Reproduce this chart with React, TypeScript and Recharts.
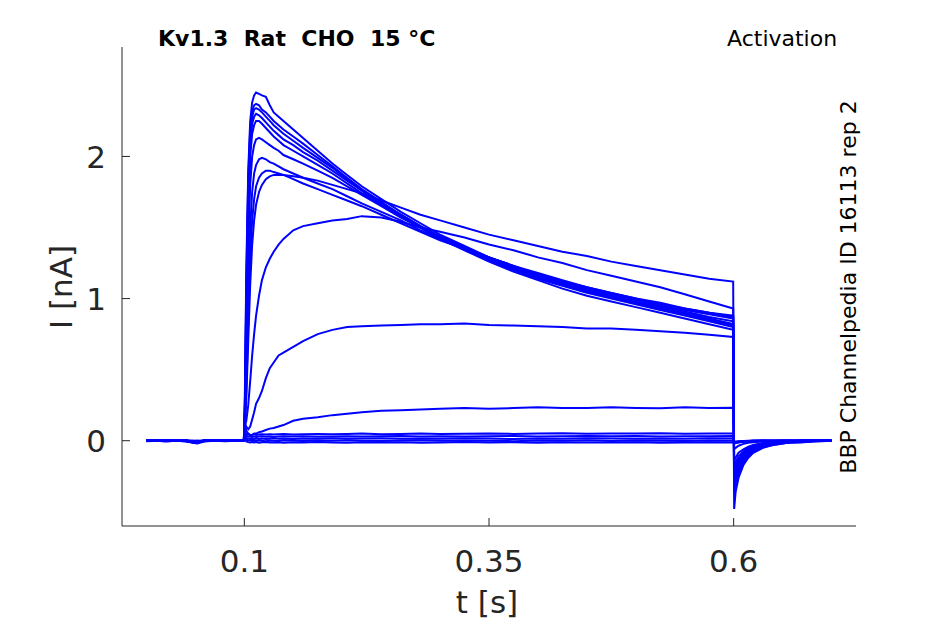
import React from "react";
import { LineChart, Line, XAxis, YAxis } from "recharts";

// sample times [s]
const T = [
  0, 0.02, 0.04, 0.047, 0.052, 0.06, 0.08, 0.0995,
  0.1005, 0.102, 0.104, 0.106, 0.108, 0.11, 0.112, 0.115, 0.118, 0.122,
  0.126, 0.13, 0.135, 0.14, 0.15, 0.16, 0.175, 0.19, 0.205, 0.22,
  0.24, 0.26, 0.28, 0.3, 0.325, 0.35, 0.375, 0.4, 0.425, 0.45,
  0.475, 0.5, 0.525, 0.55, 0.575, 0.5995,
  0.6005, 0.602, 0.605, 0.61, 0.615, 0.62, 0.63, 0.64, 0.655, 0.67, 0.685, 0.7,
];

// current sweeps [nA]
const P1 = [
  0.003, -0.004, 0.002, -0.01, -0.012, 0.004, -0.003, 0.002,
  0.06, 0.05, 0.045, 0.04, 0.042, 0.045, 0.04, 0.043, 0.045, 0.044, 0.046, 0.043, 0.045, 0.047, 0.044, 0.046, 0.048, 0.045, 0.047, 0.05,
  0.046, 0.048, 0.05, 0.047, 0.049, 0.051, 0.048, 0.05, 0.052, 0.049, 0.051, 0.05, 0.052, 0.049, 0.051, 0.05,
  -0.02, -0.015, -0.01, -0.006, -0.004, -0.002, 0, 0.002, 0, -0.002, 0.001, 0,
];
const P2 = [
  -0.004, 0.002, -0.002, -0.006, -0.004, 0.002, 0.004, -0.002,
  0.05, 0.035, 0.03, 0.028, 0.027, 0.03, 0.026, 0.029, 0.031, 0.028, 0.03, 0.027, 0.03, 0.032, 0.029, 0.031, 0.028, 0.03, 0.032, 0.029,
  0.031, 0.033, 0.03, 0.032, 0.029, 0.031, 0.033, 0.03, 0.032, 0.034, 0.031, 0.033, 0.03, 0.032, 0.031, 0.033,
  -0.015, -0.012, -0.008, -0.005, -0.003, -0.001, 0.001, 0, 0.002, 0, -0.001, 0,
];
const P3 = [
  0, 0.004, -0.004, -0.015, -0.02, -0.004, 0.002, 0,
  0.04, 0.02, 0.015, 0.012, 0.014, 0.01, 0.015, 0.013, 0.016, 0.012, 0.014, 0.017, 0.013, 0.015, 0.012, 0.016, 0.014, 0.018, 0.013, 0.015,
  0.017, 0.014, 0.016, 0.013, 0.017, 0.015, 0.012, 0.016, 0.014, 0.018, 0.015, 0.013, 0.016, 0.014, 0.017, 0.015,
  -0.012, -0.01, -0.006, -0.004, -0.002, 0, 0.001, -0.001, 0, 0.001, 0, 0,
];
const P4 = [
  0.002, -0.003, 0.004, -0.002, 0.001, -0.004, 0.003, 0.001,
  0.03, 0.008, 0.003, 0.001, -0.002, 0.002, -0.001, 0.003, 0, -0.003, 0.002, 0, -0.002, 0.003, 0.001, -0.002, 0.002, -0.001, 0.003, 0,
  -0.002, 0.001, 0.003, -0.001, 0.002, 0, -0.003, 0.002, 0, 0.003, -0.002, 0.001, 0, -0.002, 0.002, 0,
  -0.008, -0.006, -0.004, -0.002, 0, 0.001, 0, -0.001, 0.001, 0, 0, 0,
];
const P5 = [
  -0.002, 0.003, -0.004, 0.002, -0.003, 0.004, -0.002, 0,
  0.02, -0.005, -0.01, -0.012, -0.009, -0.013, -0.01, -0.014, -0.011, -0.009, -0.013, -0.012, -0.01, -0.014, -0.011, -0.013, -0.009, -0.012, -0.014, -0.01,
  -0.013, -0.011, -0.014, -0.012, -0.009, -0.013, -0.011, -0.014, -0.01, -0.012, -0.013, -0.011, -0.014, -0.012, -0.01, -0.012,
  -0.02, -0.016, -0.012, -0.008, -0.005, -0.003, -0.001, 0, 0.001, 0, -0.001, 0,
];
const A = [
  0.001, -0.002, 0.003, -0.012, -0.015, 0.002, -0.002, 0.001,
  0.12, 0.07, 0.05, 0.04, 0.04, 0.05, 0.05, 0.06, 0.065, 0.075, 0.085, 0.09, 0.1, 0.11, 0.14, 0.155, 0.165, 0.18, 0.19, 0.2,
  0.21, 0.215, 0.22, 0.225, 0.23, 0.225, 0.23, 0.235, 0.23, 0.23, 0.235, 0.23, 0.228, 0.235, 0.23, 0.232,
  -0.06, -0.05, -0.035, -0.022, -0.015, -0.01, -0.005, -0.002, 0, 0.001, 0, 0,
];
const B = [
  -0.002, 0.003, 0, -0.008, -0.01, 0.003, 0, -0.001,
  0.12, 0.1, 0.08, 0.1, 0.15, 0.2, 0.26, 0.3, 0.35, 0.44, 0.51, 0.55, 0.6, 0.62, 0.66, 0.7, 0.75, 0.78, 0.8, 0.805,
  0.81, 0.815, 0.82, 0.82, 0.825, 0.815, 0.81, 0.805, 0.8, 0.79, 0.79, 0.78, 0.77, 0.76, 0.745, 0.73,
  -0.14, -0.12, -0.085, -0.06, -0.042, -0.03, -0.016, -0.008, -0.003, 0, 0, 0,
];
const C = [
  0.002, -0.001, 0.002, -0.004, -0.006, 0.001, 0.003, 0,
  0.1, 0.14, 0.25, 0.42, 0.6, 0.75, 0.88, 1.02, 1.13, 1.22, 1.28, 1.33, 1.38, 1.42, 1.48, 1.51, 1.53, 1.55, 1.56, 1.58,
  1.57, 1.54, 1.5, 1.47, 1.43, 1.38, 1.34, 1.29, 1.25, 1.2, 1.16, 1.12, 1.08, 1.03, 0.98, 0.93,
  -0.18, -0.15, -0.11, -0.075, -0.05, -0.035, -0.02, -0.01, -0.004, 0, 0, 0,
];
const D = [
  0.001, 0.002, -0.003, -0.01, -0.012, 0.002, -0.001, 0,
  0.12, 0.3, 0.7, 1.1, 1.38, 1.55, 1.66, 1.75, 1.8, 1.84, 1.86, 1.87, 1.87, 1.87, 1.86, 1.85, 1.83, 1.8, 1.77, 1.74,
  1.69, 1.64, 1.59, 1.55, 1.5, 1.45, 1.41, 1.37, 1.33, 1.3, 1.26, 1.23, 1.2, 1.17, 1.14, 1.12,
  -0.2, -0.17, -0.13, -0.085, -0.058, -0.04, -0.022, -0.012, -0.004, 0, 0, 0,
];
const F = [
  -0.001, 0.003, 0.001, -0.005, -0.008, 0.002, 0.001, 0,
  0.12, 0.35, 0.85, 1.3, 1.55, 1.7, 1.79, 1.85, 1.88, 1.9, 1.9, 1.89, 1.88, 1.87, 1.84, 1.81, 1.77, 1.73, 1.69, 1.65,
  1.59, 1.53, 1.47, 1.41, 1.35, 1.29, 1.23, 1.18, 1.13, 1.08, 1.04, 1.0, 0.97, 0.93, 0.9, 0.88,
  -0.22, -0.19, -0.145, -0.095, -0.066, -0.046, -0.026, -0.015, -0.005, 0, 0, 0,
];
const E = [
  0.002, -0.002, 0.001, -0.006, -0.009, 0.001, 0.002, 0,
  0.13, 0.45, 1.05, 1.5, 1.75, 1.88, 1.94, 1.98, 1.99, 1.98, 1.96, 1.95, 1.93, 1.91, 1.88, 1.85, 1.81, 1.77, 1.72, 1.67,
  1.61, 1.55, 1.48, 1.42, 1.35, 1.29, 1.23, 1.17, 1.12, 1.08, 1.04, 1.0, 0.96, 0.93, 0.9, 0.87,
  -0.24, -0.2, -0.155, -0.1, -0.07, -0.05, -0.03, -0.015, -0.005, 0, 0, 0,
];
const G = [
  -0.002, 0.001, 0.003, -0.004, -0.007, 0.003, -0.002, 0.001,
  0.15, 0.6, 1.35, 1.8, 2.0, 2.08, 2.12, 2.13, 2.12, 2.1, 2.08, 2.06, 2.04, 2.01, 1.98, 1.95, 1.9, 1.85, 1.79, 1.73,
  1.65, 1.57, 1.5, 1.43, 1.36, 1.29, 1.23, 1.17, 1.12, 1.07, 1.03, 0.99, 0.95, 0.92, 0.89, 0.86,
  -0.26, -0.22, -0.165, -0.11, -0.08, -0.055, -0.03, -0.02, -0.01, 0, 0, 0,
];
const H = [
  0.001, -0.003, 0.002, -0.008, -0.011, 0, 0.002, -0.001,
  0.18, 0.8, 1.6, 2.0, 2.16, 2.22, 2.25, 2.25, 2.23, 2.2, 2.17, 2.14, 2.11, 2.08, 2.04, 2.0, 1.94, 1.88, 1.81, 1.74,
  1.66, 1.58, 1.5, 1.42, 1.35, 1.28, 1.21, 1.15, 1.1, 1.05, 1.01, 0.97, 0.93, 0.9, 0.86, 0.82,
  -0.28, -0.24, -0.18, -0.12, -0.085, -0.06, -0.035, -0.02, -0.01, 0, 0, 0,
];
const I = [
  -0.001, 0.002, -0.002, -0.01, -0.013, 0.002, 0, 0.001,
  0.2, 0.9, 1.7, 2.08, 2.23, 2.28, 2.3, 2.29, 2.27, 2.24, 2.21, 2.18, 2.15, 2.12, 2.08, 2.03, 1.97, 1.9, 1.83, 1.76,
  1.67, 1.59, 1.51, 1.44, 1.36, 1.29, 1.22, 1.16, 1.11, 1.06, 1.02, 0.98, 0.94, 0.91, 0.87, 0.84,
  -0.3, -0.26, -0.195, -0.13, -0.09, -0.065, -0.035, -0.02, -0.01, -0.005, 0, 0,
];
const J = [
  0.002, 0, 0.001, -0.007, -0.01, -0.002, 0.003, 0,
  0.22, 1.0, 1.78, 2.15, 2.28, 2.33, 2.34, 2.33, 2.31, 2.28, 2.25, 2.22, 2.19, 2.16, 2.11, 2.06, 1.99, 1.92, 1.84, 1.76,
  1.67, 1.58, 1.5, 1.42, 1.34, 1.26, 1.19, 1.13, 1.07, 1.02, 0.98, 0.94, 0.9, 0.86, 0.82, 0.78,
  -0.33, -0.28, -0.21, -0.14, -0.1, -0.07, -0.04, -0.025, -0.01, -0.005, 0, 0,
];
const K = [
  -0.002, 0.002, 0, -0.005, -0.008, 0.001, -0.002, 0.001,
  0.25, 1.1, 1.85, 2.2, 2.32, 2.36, 2.37, 2.36, 2.33, 2.31, 2.28, 2.25, 2.22, 2.19, 2.14, 2.09, 2.01, 1.93, 1.85, 1.77,
  1.68, 1.59, 1.51, 1.43, 1.35, 1.27, 1.2, 1.14, 1.09, 1.04, 1.0, 0.96, 0.92, 0.88, 0.84, 0.8,
  -0.36, -0.31, -0.23, -0.15, -0.11, -0.08, -0.045, -0.03, -0.015, -0.01, 0, 0,
];
const L = [
  0.001, -0.001, 0.002, -0.009, -0.012, 0.002, 0.001, 0,
  0.3, 1.2, 1.9, 2.25, 2.38, 2.43, 2.45, 2.44, 2.43, 2.42, 2.36, 2.31, 2.28, 2.25, 2.19, 2.13, 2.04, 1.95, 1.87, 1.79,
  1.7, 1.61, 1.53, 1.45, 1.37, 1.29, 1.22, 1.16, 1.1, 1.05, 1.01, 0.97, 0.93, 0.89, 0.85, 0.81,
  -0.48, -0.36, -0.26, -0.17, -0.12, -0.085, -0.05, -0.03, -0.015, -0.01, -0.005, 0,
];

const sweeps: [string, number[]][] = [
  ["p1", P1], ["p2", P2], ["p3", P3], ["p4", P4], ["p5", P5],
  ["a", A], ["b", B], ["c", C], ["d", D], ["f", F], ["e", E],
  ["g", G], ["h", H], ["i", I], ["j", J], ["k", K], ["l", L],
];

const X_TICKS = [0.1, 0.35, 0.6];
const Y_TICKS = [0, 1, 2];

const data = T.map((t, idx) => {
  const row: Record<string, number> = { t };
  sweeps.forEach(([key, vals]) => {
    row[key] = vals[idx];
  });
  return row;
});

const AX = "#262626";
const FONT = "'DejaVu Sans', sans-serif";

// inward tick mark + label (matlab style)
function XTick(props: any) {
  const { x, y, payload } = props;
  return (
    <g>
      <line x1={x} x2={x} y1={y - 24} y2={y - 32} stroke={AX} strokeWidth={1} />
      <text x={x} y={y} dy="0.72em" textAnchor="middle" fill={AX} fontSize={31} fontFamily={FONT}>
        {String(payload.value)}
      </text>
    </g>
  );
}

function YTick(props: any) {
  const { x, y, payload } = props;
  return (
    <g>
      <line x1={x + 16} x2={x + 24} y1={y} y2={y} stroke={AX} strokeWidth={1} />
      <text x={x} y={y} dy="0.36em" textAnchor="end" fill={AX} fontSize={31} fontFamily={FONT}>
        {String(payload.value)}
      </text>
    </g>
  );
}

export default function App() {
  return (
    <div style={{ position: "absolute", left: 0, top: 0, width: 945, height: 624, background: "#fff", fontFamily: FONT }}>
      <LineChart width={945} height={624} data={data} margin={{ top: 47, right: 89, left: 62, bottom: 38 }}>
        <XAxis
          type="number"
          dataKey="t"
          domain={[-0.025, 0.725]}
          ticks={X_TICKS}
          stroke={AX}
          tickLine={false}
          tickSize={0}
          tickMargin={24}
          height={60}
          tick={<XTick />}
          allowDataOverflow
        />
        <YAxis
          type="number"
          domain={[-0.6, 2.77]}
          ticks={Y_TICKS}
          stroke={AX}
          tickLine={false}
          tickSize={0}
          tickMargin={16}
          width={60}
          tick={<YTick />}
          allowDataOverflow
        />
        {sweeps.map(([key]) => (
          <Line
            key={key}
            type="linear"
            dataKey={key}
            stroke="#0000ff"
            strokeWidth={2}
            dot={false}
            isAnimationActive={false}
          />
        ))}
      </LineChart>
      <div style={{ position: "absolute", left: 158, top: 28, fontSize: 22, lineHeight: 1, fontWeight: "bold", whiteSpace: "pre", color: "#000" }}>
        {"Kv1.3  Rat  CHO  15 °C"}
      </div>
      <div style={{ position: "absolute", left: 727, top: 28, fontSize: 22, lineHeight: 1, whiteSpace: "pre", color: "#000" }}>
        Activation
      </div>
      <div
        style={{
          position: "absolute", left: 849, top: 287, fontSize: 22, lineHeight: 1, whiteSpace: "nowrap", color: "#000",
          transform: "translate(-50%, -50%) rotate(-90deg)",
        }}
      >
        BBP Channelpedia ID 16113 rep 2
      </div>
      <div
        style={{
          position: "absolute", left: 61, top: 287, fontSize: 31, lineHeight: 1, whiteSpace: "nowrap", color: AX,
          transform: "translate(-50%, -50%) rotate(-90deg)",
        }}
      >
        I [nA]
      </div>
      <div
        style={{
          position: "absolute", left: 487, top: 587, fontSize: 31, lineHeight: 1, whiteSpace: "nowrap", color: AX,
          transform: "translateX(-50%)",
        }}
      >
        t [s]
      </div>
    </div>
  );
}
